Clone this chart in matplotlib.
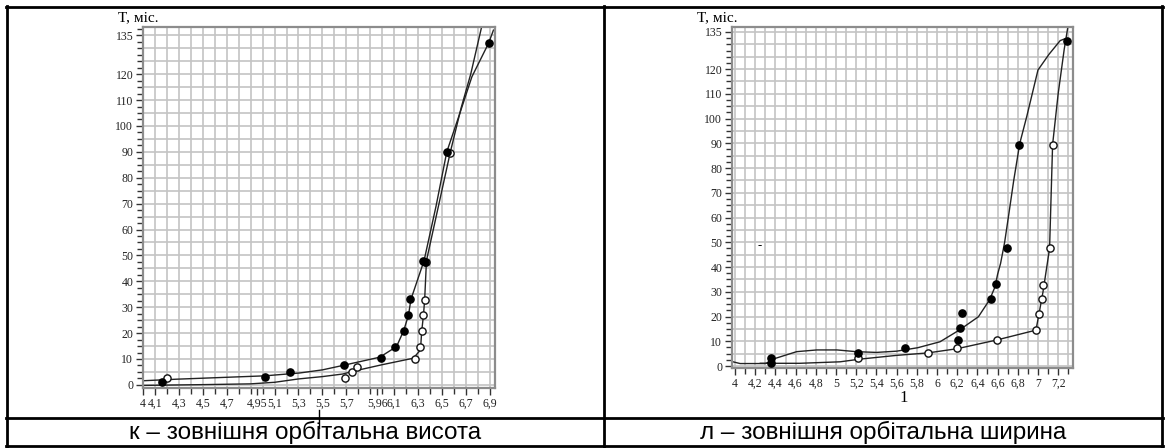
import matplotlib
matplotlib.use('Agg')
import matplotlib.pyplot as plt
import numpy as np
from matplotlib.lines import Line2D
from matplotlib.ticker import FixedLocator, MultipleLocator

W, H = 1169, 448

# ---------------- panel к ----------------
k_xticks = [4.0, 4.1, 4.3, 4.5, 4.7, 4.95, 5.1, 5.3, 5.5, 5.7, 5.96, 6.1, 6.3, 6.5, 6.7, 6.9]
k_xlabels = ["4", "4,1", "4,3", "4,5", "4,7", "4,95", "5,1", "5,3", "5,5", "5,7", "5,96", "6,1", "6,3", "6,5", "6,7", "6,9"]
k_filled_x = [4.16, 5.02, 5.23, 5.68, 5.99, 6.11, 6.18, 6.215, 6.23, 6.34, 6.36, 6.54, 6.89]
k_filled_y = [1.2, 3.0, 5.1, 7.5, 10.5, 14.8, 21, 27, 33, 48, 47.5, 90, 132]
k_open_x = [4.20, 5.69, 5.75, 5.79, 6.27, 6.32, 6.335, 6.34, 6.36, 6.37, 6.57]
k_open_y = [2.8, 2.6, 4.8, 7.1, 10, 14.5, 20.8, 26.9, 32.7, 47.5, 89.6]
k_curve1_x = [4.0, 4.28, 5.02, 5.31, 5.5, 5.67, 5.98, 6.12, 6.18, 6.22, 6.24, 6.35, 6.45, 6.54, 6.65, 6.75, 6.89, 6.93]
k_curve1_y = [1.6, 2.2, 3.5, 4.6, 5.8, 7.5, 10.7, 14.8, 21, 27, 33, 48, 69, 90, 105, 119, 132, 137]
k_curve2_x = [4.0, 4.5, 4.9, 5.1, 5.3, 5.5, 5.67, 5.76, 6.0, 6.26, 6.32, 6.33, 6.345, 6.355, 6.37, 6.47, 6.57, 6.66, 6.74, 6.83]
k_curve2_y = [-0.2, 0.1, 0.4, 1.0, 2.3, 3.2, 4.2, 5.3, 7.8, 10.3, 13.5, 20.6, 27, 33, 48, 69, 90, 107, 120, 138]

# ---------------- panel л ----------------
l_xticks = [4.0, 4.2, 4.4, 4.6, 4.8, 5.0, 5.2, 5.4, 5.6, 5.8, 6.0, 6.2, 6.4, 6.6, 6.8, 7.0, 7.2]
l_xlabels = ["4", "4,2", "4,4", "4,6", "4,8", "5", "5,2", "5,4", "5,6", "5,8", "6", "6,2", "6,4", "6,6", "6,8", "7", "7,2"]
l_filled_x = [4.355, 4.355, 5.22, 5.68, 6.21, 6.23, 6.25, 6.53, 6.58, 6.69, 6.817, 7.29]
l_filled_y = [1.3, 3.1, 5.4, 7.4, 10.5, 15.2, 21.3, 27, 33, 47.5, 89.5, 131.5]
l_open_x = [5.22, 5.91, 6.2, 6.59, 6.98, 7.01, 7.04, 7.05, 7.115, 7.145]
l_open_y = [3.1, 5.1, 7.1, 10.5, 14.5, 21, 27, 32.7, 47.5, 89.5]
l_curve1_x = [3.98, 4.05, 4.3, 4.36, 4.40, 4.61, 4.81, 5.01, 5.2, 5.4, 5.6, 5.81, 6.03, 6.22, 6.41, 6.52, 6.575, 6.6, 6.63, 6.67, 6.71, 6.76, 6.82, 6.89, 7.0, 7.11, 7.22, 7.27, 7.29]
l_curve1_y = [1.7, 1.0, 1.0, 2.0, 3.1, 5.8, 6.5, 6.5, 5.8, 5.5, 6.0, 7.4, 9.8, 14.5, 19.9, 26.7, 32, 37, 41.5, 50, 61, 75, 90, 101, 119.6, 126, 131.5, 132.3, 131]
l_curve2_x = [4.25, 4.64, 5.04, 5.24, 5.6, 5.91, 6.2, 6.59, 6.98, 7.01, 7.05, 7.115, 7.145, 7.2, 7.26, 7.30]
l_curve2_y = [1.1, 1.1, 1.7, 2.8, 4.3, 5.3, 7.0, 10.5, 14.5, 21, 30, 47.5, 89.5, 110, 128, 138]

y_major = [0, 10, 20, 30, 40, 50, 60, 70, 80, 90, 100, 110, 120, 135]
y_labels = [str(v) for v in y_major]

fig = plt.figure(figsize=(W / 100, H / 100), dpi=100)
fig.patch.set_facecolor('white')


def px_rect(x0, y0, x1, y1):
    return [x0 / W, 1 - y1 / H, (x1 - x0) / W, (y1 - y0) / H]


def setup(ax, xlim, ylim, xt, xl, xgrid):
    ax.set_xlim(*xlim)
    ax.set_ylim(*ylim)
    for v in xgrid:
        ax.axvline(v, color='#c4c4c4', lw=1.2, zorder=0)
    for v in np.arange(0, 136, 5):
        ax.axhline(v, color='#c4c4c4', lw=1.2, zorder=0)
    ax.xaxis.set_major_locator(FixedLocator(xt))
    ax.set_xticklabels(xl, fontsize=8.5, family='Liberation Serif')
    ax.xaxis.set_minor_locator(FixedLocator(list(xgrid)))
    ax.yaxis.set_major_locator(FixedLocator(y_major))
    ax.set_yticklabels(y_labels, fontsize=8.5, family='Liberation Serif')
    ax.yaxis.set_minor_locator(MultipleLocator(2.5))
    ax.tick_params(axis='both', which='both', direction='out', color='#333333', width=1.0)
    ax.tick_params(axis='both', which='major', length=5, pad=2, labelcolor='#222222')
    ax.tick_params(axis='both', which='minor', length=4)
    for s in ax.spines.values():
        s.set_color('#8c8c8c')
        s.set_linewidth(1.6)


MS = 5.2

# left
axk = fig.add_axes(px_rect(143, 27, 495, 388))
setup(axk, (4.0, 6.943), (-1.2, 138.2), k_xticks, k_xlabels, np.arange(4.0, 6.95, 0.1))
axk.plot(k_curve1_x, k_curve1_y, color='#222222', lw=1.0, zorder=2)
axk.plot(k_curve2_x, k_curve2_y, color='#222222', lw=1.0, zorder=2)
axk.plot(k_open_x, k_open_y, 'o', ms=MS, mfc='white', mec='#111111', mew=1.0, ls='none', zorder=3)
axk.plot(k_filled_x, k_filled_y, 'o', ms=MS, mfc='black', mec='black', ls='none', zorder=4)

# right
axl = fig.add_axes(px_rect(732, 27, 1073, 368))
setup(axl, (3.97, 7.347), (-0.8, 137.0), l_xticks, l_xlabels, np.arange(4.0, 7.35, 0.1))
axl.plot(l_curve1_x, l_curve1_y, color='#222222', lw=1.0, zorder=2)
axl.plot(l_curve2_x, l_curve2_y, color='#222222', lw=1.0, zorder=2)
axl.plot(l_open_x, l_open_y, 'o', ms=MS, mfc='white', mec='#111111', mew=1.0, ls='none', zorder=3)
axl.plot(l_filled_x, l_filled_y, 'o', ms=MS, mfc='black', mec='black', ls='none', zorder=4)

# axis titles
fig.text(118 / W, 1 - 18 / H, "T, міс.", fontsize=11, family='Liberation Serif', va='center', ha='left')
fig.text(697 / W, 1 - 18 / H, "T, міс.", fontsize=11, family='Liberation Serif', va='center', ha='left')
fig.text(904 / W, 1 - 398 / H, "1", fontsize=12, family='Liberation Serif', va='center', ha='center')
fig.text(760 / W, 1 - 246 / H, "-", fontsize=9, family='Liberation Serif', va='center', ha='center')
fig.add_artist(Line2D([319 / W, 319 / W], [1 - 410 / H, 1 - 428 / H], color='black', lw=1.0))

# table lines
def hline(y, x0, x1):
    fig.add_artist(Line2D([x0 / W, x1 / W], [1 - y / H, 1 - y / H], color='black', lw=2.0))

def vline(x, y0, y1):
    fig.add_artist(Line2D([x / W, x / W], [1 - y0 / H, 1 - y1 / H], color='black', lw=2.0))

hline(7, 6, 1163)
hline(418, 6, 1163)
hline(446, 6, 1163)
vline(7, 6, 447)
vline(604, 6, 447)
vline(1162, 6, 447)

fig.text(305 / W, 1 - 432 / H, "к – зовнішня орбітальна висота", fontsize=17.5, family='Liberation Sans', va='center', ha='center')
fig.text(883 / W, 1 - 432 / H, "л – зовнішня орбітальна ширина", fontsize=17.5, family='Liberation Sans', va='center', ha='center')

fig.savefig('out.png', dpi=100, facecolor='white')
